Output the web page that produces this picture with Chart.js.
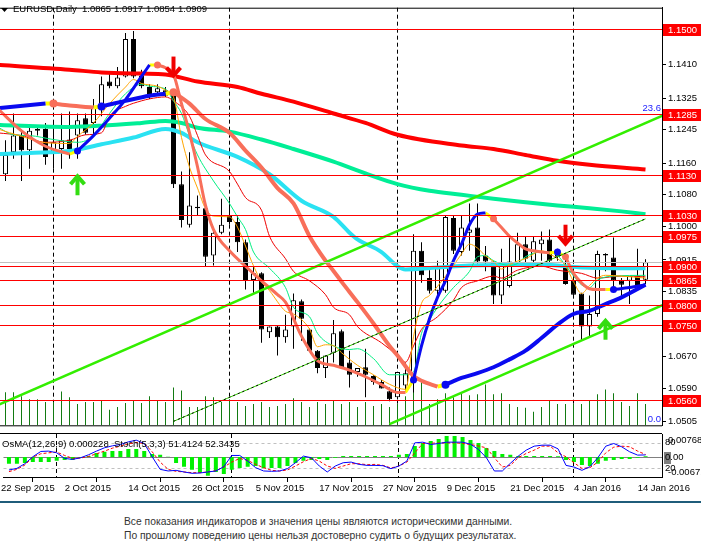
<!DOCTYPE html>
<html>
<head>
<meta charset="utf-8">
<script src="https://cdn.jsdelivr.net/npm/chart.js@4.4.0/dist/chart.umd.min.js"></script>
<style>
  body { margin: 0; background: #fff; width: 701px; height: 552px; overflow: hidden; position: relative; }
  #priceChart { position: absolute; left: 0; top: 0; }
  #oscChart { position: absolute; left: 0; top: 433px; }
  #rule { position: absolute; left: 0; top: 501px; width: 701px; height: 2px; background: #1f5c7a; }
  #note { position: absolute; left: 124px; top: 515px; font: 10.3px 'Liberation Sans', Arial, sans-serif; line-height: 14px; color: #333; white-space: nowrap; }
</style>
</head>
<body>
<canvas id="priceChart" width="701" height="433"></canvas>
<canvas id="oscChart" width="701" height="66"></canvas>
<div id="rule"></div>
<div id="note">Все показания индикаторов и значения цены являются историческими данными.<br>По прошлому поведению цены нельзя достоверно судить о будущих результатах.</div>
<script>
// ---- data (bar index 0 = 23 Sep 2015 ... 80 = 15 Jan 2016) ----
const dateBars = [-1, 7, 15, 23, 31, 39, 47, 55, 63, 71, 79];
const dateLabels = ['22 Sep 2015', '2 Oct 2015', '14 Oct 2015', '26 Oct 2015', '5 Nov 2015', '17 Nov 2015',
  '27 Nov 2015', '9 Dec 2015', '21 Dec 2015', '4 Jan 2016', '14 Jan 2016'];
const monthStarts = [6, 28, 49, 71];

const open = [1.1132,1.1188,1.1230,1.1193,1.1247,1.1247,1.1188,1.1196,1.1220,1.1230,
  1.1274,1.1262,1.1294,1.1367,1.1355,1.1380,1.1475,1.1382,1.1353,1.1340,
  1.1345,1.1336,1.1107,1.1004,1.1050,1.1046,1.0926,1.0984,1.1029,1.1011,
  1.0960,1.0864,1.0881,1.0732,1.0746,1.0719,1.0746,1.0810,1.0739,1.0685,
  1.0641,1.0680,1.0734,1.0655,1.0631,1.0643,1.0621,1.0606,1.0582,1.0567,
  1.0597,1.0606,1.0938,1.0869,1.0837,1.0837,1.1021,1.0935,1.0984,1.0997,
  1.0926,1.0911,1.0825,1.0849,1.0906,1.0955,1.0913,1.0955,1.0967,1.0935,
  1.0903,1.0862,1.0830,1.0746,1.0778,1.0930,1.0921,1.0862,1.0862,1.0874,1.0865];
const high = [1.1218,1.1286,1.1245,1.1250,1.1257,1.1262,1.1262,1.1286,1.1291,1.1286,
  1.1286,1.1323,1.1380,1.1392,1.1404,1.1490,1.1495,1.1397,1.1360,1.1360,
  1.1353,1.1343,1.1139,1.1188,1.1078,1.1050,1.0987,1.1070,1.1065,1.1029,
  1.0967,1.0899,1.0884,1.0746,1.0748,1.0776,1.0830,1.0815,1.0741,1.0687,
  1.0673,1.0763,1.0739,1.0685,1.0641,1.0690,1.0623,1.0611,1.0592,1.0631,
  1.0655,1.0980,1.0960,1.0889,1.0913,1.1029,1.1029,1.1029,1.1058,1.1058,
  1.0950,1.0913,1.0943,1.0972,1.0984,1.0975,1.0975,1.0987,1.0992,1.0943,
  1.0926,1.0894,1.0832,1.0825,1.0938,1.0932,1.0972,1.0869,1.0874,1.0943,1.0917];
const low = [1.1115,1.1171,1.1115,1.1146,1.1230,1.1156,1.1146,1.1146,1.1171,1.1171,
  1.1232,1.1232,1.1279,1.1350,1.1350,1.1377,1.1375,1.1350,1.1323,1.1336,
  1.1328,1.1097,1.0997,1.0997,1.1029,1.0899,1.0901,1.0980,1.1004,1.0935,
  1.0840,1.0832,1.0705,1.0717,1.0673,1.0705,1.0690,1.0710,1.0682,1.0628,
  1.0616,1.0655,1.0641,1.0592,1.0619,1.0567,1.0599,1.0589,1.0557,1.0562,
  1.0582,1.0579,1.0857,1.0830,1.0820,1.0832,1.0930,1.0926,1.0938,1.0906,
  1.0886,1.0803,1.0803,1.0845,1.0899,1.0899,1.0906,1.0913,1.0901,1.0913,
  1.0852,1.0820,1.0712,1.0717,1.0771,1.0886,1.0845,1.0820,1.0803,1.0845,1.0854];
const close = [1.1181,1.1230,1.1193,1.1242,1.1242,1.1176,1.1213,1.1218,1.1196,1.1269,
  1.1237,1.1304,1.1360,1.1355,1.1377,1.1475,1.1380,1.1355,1.1331,1.1350,
  1.1331,1.1107,1.1016,1.1053,1.1046,1.0923,1.0984,1.1004,1.1011,1.0960,
  1.0864,1.0881,1.0739,1.0746,1.0719,1.0739,1.0813,1.0766,1.0685,1.0641,
  1.0673,1.0729,1.0643,1.0624,1.0641,1.0624,1.0606,1.0589,1.0562,1.0631,
  1.0628,1.0938,1.0876,1.0837,1.0894,1.1024,1.0938,1.0997,1.0992,1.0911,
  1.0911,1.0825,1.0906,1.0911,1.0955,1.0918,1.0962,1.0967,1.0913,1.0923,
  1.0854,1.0827,1.0746,1.0778,1.0930,1.0926,1.0862,1.0852,1.0874,1.0849,1.0909];
// tick volume, arbitrary units
const volume = [34,34,30,27,27,24,24,35,29,22, 24,24,25,16,19,23,25,23,30,25,
  24,39,36,19,19,30,29,24,27,24, 20,22,24,19,20,22,28,24,19,24,
  22,25,22,24,19,24,20,22,19,22, 30,37,45,22,27,33,29,33,31,32,
  42,32,33,22,19,18,14,19,26,22, 22,22,22,25,32,37,33,24,20,33,22];

// moving averages: [bar, price]
const maSlowRed = [[-1,1.1409],[8,1.1397],[12,1.1390],[17,1.1387],[20,1.1385],[24,1.1367],[29,1.1353],[32,1.1336],
  [36,1.1316],[41,1.1286],[45,1.1262],[49,1.1232],[57,1.1205],[61,1.1196],[65,1.1181],[69,1.1166],[73,1.1156],[80,1.1144]];
const maMint = [[-1,1.1257],[8,1.1252],[12,1.1255],[17,1.1262],[20,1.1267],[22,1.1262],[24,1.1250],[28,1.1240],[32,1.1220],
  [36,1.1196],[41,1.1164],[45,1.1134],[49,1.1107],[53,1.1090],[57,1.1080],[61,1.1070],[65,1.1061],[69,1.1053],[73,1.1046],[77,1.1038],[80,1.1031]];
const maCyan = [[-1,1.1183],[3,1.1186],[8,1.1191],[12,1.1208],[16,1.1225],[20,1.1247],[22,1.1237],[24,1.1213],[29,1.1176],
  [33,1.1132],[37,1.1065],[41,1.1024],[43,1.0984],[44,1.0967],[47,1.0935],[49,1.0899],[50,1.0891],[54,1.0896],[58,1.0901],
  [67,1.0903],[72,1.0896],[76,1.0894],[80,1.0894]];
const maOrange = [[-1,1.1247],[2,1.1228],[5,1.1212],[8,1.1210],[9,1.1228],[11,1.1262],[13,1.1311],[15,1.1353],[16,1.1372],
  [17,1.1362],[19,1.1355],[20,1.1345],[21,1.1328],[22,1.1225],[23,1.1150],[24,1.1097],[25,1.1045],[26,1.1026],[28,1.1024],
  [29,1.0998],[30,1.0950],[31,1.0900],[32,1.0860],[33,1.0837],[35,1.0785],[36,1.0778],[38,1.0740],[39,1.0695],[40,1.0700],
  [41,1.0698],[42,1.0680],[44,1.0648],[46,1.0624],[48,1.0600],[50,1.0587],[51,1.0720],[52,1.0805],[53,1.0825],[54,1.0848],
  [56,1.0901],[57,1.0930],[58,1.0955],[59,1.0945],[60,1.0925],[61,1.0911],[62,1.0892],[63,1.0903],[64,1.0912],[65,1.0918],
  [67,1.0938],[68,1.0930],[69,1.0918],[70,1.0900],[71,1.0860],[72,1.0830],[73,1.0850],[74,1.0869],[75,1.0876],[77,1.0874],[80,1.0869]];
const maSpring = [[-1,1.1252],[1,1.1232],[3,1.1230],[6,1.1220],[9,1.1213],[11,1.1230],[13,1.1286],[15,1.1336],[17,1.1360],
  [18,1.1355],[20,1.1348],[21,1.1318],[22,1.1286],[23,1.1230],[24,1.1181],[26,1.1115],[28,1.1058],[29,1.1024],[30,1.0992],
  [31,1.0935],[33,1.0894],[35,1.0845],[36,1.0795],[38,1.0771],[39,1.0729],[41,1.0697],[43,1.0688],[44,1.0690],[46,1.0665],
  [48,1.0624],[50,1.0624],[51,1.0631],[52,1.0729],[53,1.0763],[54,1.0795],[56,1.0845],[58,1.0886],[59,1.0923],[60,1.0926],
  [61,1.0913],[63,1.0901],[64,1.0906],[65,1.0923],[67,1.0935],[69,1.0926],[70,1.0901],[72,1.0852],[73,1.0845],[74,1.0864],[76,1.0874],[80,1.0876]];
const maThinRed = [[-1,1.1237],[2,1.1230],[5,1.1213],[8,1.1218],[10,1.1232],[12,1.1237],[13,1.1279],[15,1.1304],[17,1.1318],
  [18,1.1323],[20,1.1328],[21,1.1318],[23,1.1279],[24,1.1230],[25,1.1181],[28,1.1139],[29,1.1107],[30,1.1073],[32,1.1041],
  [33,1.0975],[35,1.0918],[36,1.0886],[38,1.0862],[40,1.0827],[41,1.0795],[43,1.0776],[44,1.0746],[47,1.0705],[49,1.0673],
  [50,1.0656],[51,1.0697],[52,1.0739],[54,1.0771],[56,1.0813],[57,1.0845],[59,1.0862],[61,1.0874],[62,1.0869],[64,1.0889],
  [67,1.0899],[69,1.0889],[72,1.0881],[74,1.0869],[77,1.0874],[80,1.0872]];

// two-colour trend lines: 'b' rising (blue), 's' falling (salmon)
const trendA = [
  ['b', [[-1,1.1299],[5,1.1311]]],
  ['s', [[6,1.1311],[8,1.1306],[11,1.1301]]],
  ['b', [[12,1.1304],[15,1.1318],[18,1.1331],[20,1.1336]]],
  ['s', [[21,1.1340],[23,1.1311],[25,1.1272],[28,1.1237],[30,1.1192],[32,1.1149],[34,1.1097],[36,1.1058],[38,1.0975],
         [40,1.0913],[41,1.0887],[42,1.0860],[44,1.0808],[46,1.0754],[48,1.0697],[49,1.0673],[51,1.0621],[52,1.0609],[54,1.0594]]],
  ['b', [[55,1.0599],[57,1.0616],[59,1.0628],[61,1.0643],[63,1.0663],[65,1.0685],[67,1.0717],[69,1.0751],[71,1.0778],
         [73,1.0786],[75,1.0803],[77,1.0820],[80,1.0852]]]
];
const trendB = [
  ['s', [[-1,1.1299],[2,1.1242],[5,1.1203],[8,1.1183]]],
  ['b', [[9,1.1191],[11,1.1230],[13,1.1274],[15,1.1321],[17,1.1380],[18,1.1409]]],
  ['s', [[19,1.1409],[20,1.1402],[21,1.1385],[22,1.1311],[23,1.1237],[24,1.1151],[25,1.1053],[26,1.0992],[28,1.0938],
         [30,1.0899],[32,1.0862],[34,1.0827],[35,1.0808],[37,1.0722],[39,1.0660],[41,1.0648],[43,1.0636],[45,1.0619],
         [47,1.0599],[49,1.0579],[50,1.0579]]],
  ['b', [[51,1.0611],[52,1.0697],[53,1.0766],[54,1.0820],[55,1.0862],[56,1.0913],[57,1.0955],[58,1.1004],[59,1.1031],[60,1.1034]]],
  ['s', [[61,1.1019],[62,1.0997],[63,1.0975],[64,1.0958],[65,1.0943],[66,1.0938],[67,1.0935],[68,1.0933]]],
  ['b', [[69,1.0935]]],
  ['s', [[70,1.0923],[71,1.0881],[72,1.0857],[73,1.0842],[74,1.0840],[75,1.0840]]],
  ['b', [[76,1.0840],[78,1.0845],[80,1.0852]]]
];

// drawn objects
const channelUpper = [[-1,1.0547],[83,1.1288]];
const channelLower = [[48,1.0499],[83,1.0808]];
const channelMid = [[21,1.0506],[80,1.1019]];
const priceLevels = [1.1500,1.1285,1.1130,1.1030,1.0975,1.0900,1.0865,1.0800,1.0750,1.0560];
const priceTicks = [1.1490,1.1410,1.1325,1.1245,1.1160,1.1080,1.1000,1.0915,1.0835,1.0750,1.0670,1.0590,1.0505];
const fibLabels = ['23.6', '0.0'];
const fibPrices = [1.1285, 1.0496];
const arrowBars = [21, 70, 9, 75];
const arrowPrices = [1.1377, 1.0951, 1.1132, 1.0766];
const arrowDirs = [-1, -1, 1, 1];   // -1 down (sell), 1 up (buy)

// oscillators
const osma = [-0.0023,-0.0023,-0.0020,-0.0017,-0.0017,-0.0017,-0.0013,-0.0010,-0.0010,-0.0003,
  0.0003,0.0013,0.0017,0.0020,0.0020,0.0027,0.0027,0.0020,0.0010,0.0007,
  0.0001,-0.0020,-0.0033,-0.0043,-0.0053,-0.0063,-0.0050,-0.0057,-0.0043,-0.0037,
  -0.0033,-0.0030,-0.0037,-0.0037,-0.0037,-0.0030,-0.0020,-0.0013,-0.0010,-0.0007,
  -0.0010,-0.0003,0.0003,0.0003,0.0003,0.0003,0.0003,0.0003,0.0003,0.0007,
  0.0010,0.0037,0.0047,0.0053,0.0060,0.0070,0.0070,0.0067,0.0057,0.0047,
  0.0030,0.0020,0.0010,0.0007,0.0003,0.0003,0.0003,0.0003,0.0003,0.0002,
  -0.0010,-0.0017,-0.0027,-0.0030,-0.0023,-0.0013,-0.0010,-0.0007,-0.0007,-0.0003,0.000228];
const stochMain = [16.3,20.1,30.9,47.1,59.4,60.2,56.3,43.2,40.9,44.8,
  51.7,60.2,67.9,72.5,75.6,81.7,85.6,77.9,47.1,17.8,
  14.0,15.5,11.7,8.6,9.3,11.7,14.0,24.0,50.1,50.1,
  37.0,21.7,14.0,13.2,14.0,19.4,33.2,48.6,44.8,25.5,
  11.7,25.5,33.2,34.7,29.3,27.0,27.0,26.3,19.4,25.5,
  37.0,79.4,81.0,75.6,77.9,81.0,81.0,81.0,76.3,64.0,
  44.8,14.0,14.0,31.7,48.6,62.5,71.7,74.0,74.0,65.5,
  27.0,23.2,15.5,24.0,44.8,71.7,77.9,70.2,58.6,50.9,51.4124];
const stochSignal = [12.4,17.8,27.8,46.3,54.0,56.3,57.9,50.1,43.2,44.0,
  47.9,54.0,60.2,67.1,71.7,77.1,80.2,77.9,58.6,34.7,
  17.8,13.2,11.7,10.1,10.1,11.7,14.7,23.2,34.7,43.2,
  38.6,29.3,21.7,15.5,14.0,16.3,25.5,35.5,43.2,37.0,
  25.5,20.1,25.5,30.9,30.9,28.6,29.3,27.0,20.9,25.5,
  34.7,56.3,77.9,78.6,79.0,79.4,79.4,78.0,75.6,72.0,
  67.9,44.8,23.2,27.0,44.8,54.8,62.5,71.7,71.7,56.3,
  47.0,33.2,20.1,21.7,34.7,56.3,69.4,71.7,70.2,60.2,52.3435];
const stochLevels = [80, 20];

// ---- drawing ----
const FONT = "'Liberation Sans', Arial, sans-serif";
Chart.defaults.font.family = FONT;
Chart.defaults.font.size = 9.5;
Chart.defaults.color = '#000';

const X_MIN = -0.6875, X_MAX = 82.0625;
const BLUE = '#0a0af0', SALMON = '#f86f5a';
const bars = open.map((_, i) => i);
const last = bars.length - 1;
const crisp = v => Math.floor(v) + 0.5;

function pts(arr) { return arr.map(p => ({ x: p[0], y: p[1] })); }
function lineDs(arr, color, width, extra) {
  return Object.assign({
    type: 'line', data: pts(arr), borderColor: color, borderWidth: width,
    pointRadius: 0, fill: false, cubicInterpolationMode: 'monotone', order: 50
  }, extra || {});
}
function trendSets(pieces, width, dotR, order) {
  const out = [];
  pieces.forEach(([c, arr], k) => {
    const col = c === 'b' ? BLUE : SALMON;
    if (k > 0) {
      const prev = pieces[k - 1][1];
      out.push(lineDs([prev[prev.length - 1], arr[0]], '#ffff00', width, { order: order + 1 }));
    }
    out.push(lineDs(arr, col, width, {
      order,
      pointRadius: arr.map((_, j) => (j === 0 && k > 0) ? dotR : 0),
      pointBackgroundColor: col, pointBorderWidth: 0
    }));
  });
  return out;
}
// tip of the arrow sits at (x, y); the shaft points away from the tip
function drawArrow(ctx, x, y, dir) {
  const s = dir < 0 ? -1 : 1;
  ctx.save();
  ctx.lineWidth = 4;
  ctx.lineCap = 'butt';
  ctx.lineJoin = 'miter';
  ctx.strokeStyle = dir < 0 ? '#f00000' : '#33dd11';
  ctx.beginPath();
  ctx.moveTo(x, y + s * 21); ctx.lineTo(x, y + s * 3);
  ctx.stroke();
  ctx.beginPath();
  ctx.moveTo(x - 7, y + s * 10); ctx.lineTo(x, y + s * 2); ctx.lineTo(x + 7, y + s * 10);
  ctx.stroke();
  ctx.restore();
}

const mainDeco = {
  id: 'mainDeco',
  beforeDatasetsDraw(chart) {
    const { ctx, chartArea: a, scales: { x } } = chart;
    ctx.save();
    ctx.strokeStyle = '#000';
    ctx.lineWidth = 1;
    ctx.setLineDash([4, 3]);
    monthStarts.forEach(m => {
      const px = crisp(x.getPixelForValue(m));
      ctx.beginPath(); ctx.moveTo(px, a.top); ctx.lineTo(px, a.bottom); ctx.stroke();
    });
    ctx.restore();
  },
  afterDatasetsDraw(chart) {
    const { ctx, chartArea: a, scales: { x, y } } = chart;
    ctx.save();
    ctx.lineWidth = 1;
    const hline = (p, col) => {
      const py = Math.round(y.getPixelForValue(p)) + 0.5;
      ctx.strokeStyle = col;
      ctx.beginPath(); ctx.moveTo(a.left, py); ctx.lineTo(a.right, py); ctx.stroke();
    };
    hline(close[last], '#c0c0c0');
    priceLevels.forEach(p => hline(p, '#ff0000'));
    ctx.fillStyle = '#2020ff';
    ctx.font = '9.5px ' + FONT;
    ctx.textAlign = 'right';
    ctx.textBaseline = 'bottom';
    fibLabels.forEach((t, i) => ctx.fillText(t, a.right - 1, y.getPixelForValue(fibPrices[i]) - 1));
    ctx.restore();
    arrowBars.forEach((b, i) => drawArrow(ctx, x.getPixelForValue(b), y.getPixelForValue(arrowPrices[i]), arrowDirs[i]));
  },
  afterDraw(chart) {
    const { ctx, chartArea: a, scales: { y } } = chart;
    ctx.save();
    ctx.fillStyle = '#000';
    ctx.fillRect(0, a.top, a.right, 1);
    ctx.fillRect(0, a.bottom, a.right, 1);
    ctx.font = '9.5px ' + FONT;
    ctx.textBaseline = 'middle';
    ctx.textAlign = 'left';
    priceLevels.forEach(p => {
      const py = Math.round(y.getPixelForValue(p));
      ctx.fillStyle = '#ff0000';
      ctx.fillRect(a.right + 1, py - 5, 38, 12);
      ctx.fillStyle = '#fff';
      ctx.fillText(p.toFixed(4), a.right + 6, py + 1);
    });
    ctx.fillStyle = '#000';
    ctx.beginPath(); ctx.moveTo(1, 8); ctx.lineTo(8, 8); ctx.lineTo(4.5, 12); ctx.closePath(); ctx.fill();
    ctx.fillText('EURUSD,Daily', 13, 9.5);
    [open[last], high[last], low[last], close[last]].forEach((v, i) => ctx.fillText(v.toFixed(4), 82 + i * 32, 9.5));
    ctx.restore();
  }
};

new Chart(document.getElementById('priceChart'), {
  type: 'bar',
  data: {
    datasets: [
      { type: 'bar', yAxisID: 'yv', data: bars.map(i => ({ x: i, y: volume[i] })), backgroundColor: '#127a12',
        barThickness: 1, grouped: false, inflateAmount: 0, borderSkipped: false, order: 100 },
      { type: 'bar', data: bars.map(i => ({ x: i, y: [low[i], high[i]] })), backgroundColor: '#000',
        barThickness: 1, grouped: false, inflateAmount: 0, borderSkipped: false, order: 91 },
      { type: 'bar', data: bars.map(i => ({ x: i, y: [Math.min(open[i], close[i]), Math.max(open[i], close[i])] })),
        backgroundColor: bars.map(i => close[i] >= open[i] ? '#fff' : '#000'), borderColor: '#000', borderWidth: 1,
        barThickness: 5, minBarLength: 1, grouped: false, inflateAmount: 0, borderSkipped: false, order: 90 },
      lineDs(maCyan, '#2ae2f2', 4, { order: 62 }),
      lineDs(maMint, '#00ee96', 4, { order: 61 }),
      lineDs(maSlowRed, '#ff0000', 4, { order: 60 }),
      lineDs(maThinRed, '#ee0000', 1, { order: 57 }),
      lineDs(maSpring, '#00ee80', 1, { order: 56 }),
      lineDs(maOrange, '#ffa500', 1, { order: 55 }),
      ...trendSets(trendA, 4, 4, 40),
      ...trendSets(trendB, 3, 3.5, 30),
      lineDs(channelUpper, '#33ee00', 2.5, { order: 20 }),
      lineDs(channelLower, '#33ee00', 2.5, { order: 20 }),
      lineDs(channelMid, '#33cc00', 1, { order: 21 }),
      lineDs(channelMid, '#000', 1, { order: 19, borderDash: [2, 3] })
    ]
  },
  options: {
    responsive: false,
    animation: false,
    layout: { padding: { top: 1, bottom: 1, left: 0, right: 0 }, autoPadding: false },
    plugins: { legend: { display: false }, tooltip: { enabled: false } },
    scales: {
      x: { type: 'linear', min: X_MIN, max: X_MAX, display: false, offset: false },
      y: {
        type: 'linear', position: 'right', min: 1.0496, max: 1.1554,
        afterFit(s) { s.width = 39; },
        afterBuildTicks(s) { s.ticks = priceTicks.map(v => ({ value: v })); },
        ticks: { autoSkip: false, padding: 2, color: '#000', callback: v => v.toFixed(4) },
        grid: { drawOnChartArea: false, drawTicks: true, tickLength: 4, color: '#000' },
        border: { display: true, color: '#000' }
      },
      yv: { type: 'linear', display: false, min: 0, max: 431 }
    }
  },
  plugins: [mainDeco]
});

const oscDeco = {
  id: 'oscDeco',
  beforeDatasetsDraw(chart) {
    const { ctx, chartArea: a, scales: { x, y, yo } } = chart;
    ctx.save();
    ctx.lineWidth = 1;
    ctx.strokeStyle = '#000';
    ctx.setLineDash([4, 3]);
    monthStarts.forEach(m => {
      const px = crisp(x.getPixelForValue(m));
      ctx.beginPath(); ctx.moveTo(px, a.top); ctx.lineTo(px, a.bottom); ctx.stroke();
    });
    ctx.strokeStyle = '#c0c0c0';
    ctx.setLineDash([3, 3]);
    stochLevels.forEach(l => {
      const py = Math.round(y.getPixelForValue(l)) + 0.5;
      ctx.beginPath(); ctx.moveTo(a.left, py); ctx.lineTo(a.right, py); ctx.stroke();
    });
    ctx.setLineDash([]);
    ctx.strokeStyle = '#808080';
    const zy = Math.round(yo.getPixelForValue(0)) + 0.5;
    ctx.beginPath(); ctx.moveTo(a.left, zy); ctx.lineTo(a.right, zy); ctx.stroke();
    ctx.restore();
  },
  afterDatasetsDraw(chart) {
    const { ctx, chartArea: a } = chart;
    ctx.save();
    ctx.fillStyle = '#000';
    ctx.font = '9.5px ' + FONT;
    ctx.textBaseline = 'middle';
    ctx.fillText('OsMA(12,26,9) ' + osma[last].toFixed(6) + '  Stoch(5,3,3) ' +
      stochMain[last].toFixed(4) + ' ' + stochSignal[last].toFixed(4), 2, a.top + 10);
    ctx.restore();
  },
  afterDraw(chart) {
    const { ctx, chartArea: a, scales: { y, yo } } = chart;
    ctx.save();
    ctx.fillStyle = '#000';
    ctx.fillRect(0, 0, a.right, 1);
    ctx.font = '9.5px ' + FONT;
    ctx.textBaseline = 'middle';
    const rx = a.right + 3;
    stochLevels.forEach(l => ctx.fillText(String(l), rx, y.getPixelForValue(l)));
    ctx.fillText(yo.max.toFixed(5), rx + 3, a.top + 6);
    ctx.fillText(yo.min.toFixed(5), rx + 3, a.bottom - 5);
    const zy = Math.round(yo.getPixelForValue(0));
    ctx.fillStyle = '#808080';
    ctx.fillRect(rx - 1, zy - 5, 7, 12);
    ctx.fillStyle = '#000';
    ctx.fillText('0.00', rx, zy + 0.5);
    ctx.restore();
  }
};

new Chart(document.getElementById('oscChart'), {
  type: 'bar',
  data: {
    datasets: [
      { type: 'bar', yAxisID: 'yo', data: bars.map(i => ({ x: i, y: osma[i] })), backgroundColor: '#00f000',
        barThickness: 4, grouped: false, inflateAmount: 0, borderSkipped: false, order: 30 },
      { type: 'line', data: bars.map(i => ({ x: i, y: stochSignal[i] })), borderColor: '#ff0000', borderWidth: 1,
        borderDash: [3, 2], pointRadius: 0, tension: 0, order: 11 },
      { type: 'line', data: bars.map(i => ({ x: i, y: stochMain[i] })), borderColor: '#0000ff', borderWidth: 1,
        pointRadius: 0, tension: 0, order: 10 }
    ]
  },
  options: {
    responsive: false,
    animation: false,
    layout: { padding: { top: 1, bottom: 0, left: 0, right: 0 }, autoPadding: false },
    plugins: { legend: { display: false }, tooltip: { enabled: false } },
    scales: {
      x: {
        type: 'linear', min: X_MIN, max: X_MAX, position: 'bottom', offset: false,
        afterFit(s) { s.height = 22; },
        afterBuildTicks(s) { s.ticks = dateBars.map(v => ({ value: v })); },
        ticks: { autoSkip: false, maxRotation: 0, align: 'start', padding: 1, color: '#000',
          callback: v => dateLabels[dateBars.indexOf(v)] },
        grid: { drawOnChartArea: false, drawTicks: true, tickLength: 5, color: '#000' },
        border: { display: true, color: '#000' }
      },
      y: {
        type: 'linear', position: 'right', min: 0, max: 100,
        afterFit(s) { s.width = 39; },
        ticks: { display: false },
        grid: { drawOnChartArea: false, drawTicks: false },
        border: { display: true, color: '#000' }
      },
      yo: { type: 'linear', display: false, min: -0.00671, max: 0.00768 }
    }
  },
  plugins: [oscDeco]
});
</script>
</body>
</html>
